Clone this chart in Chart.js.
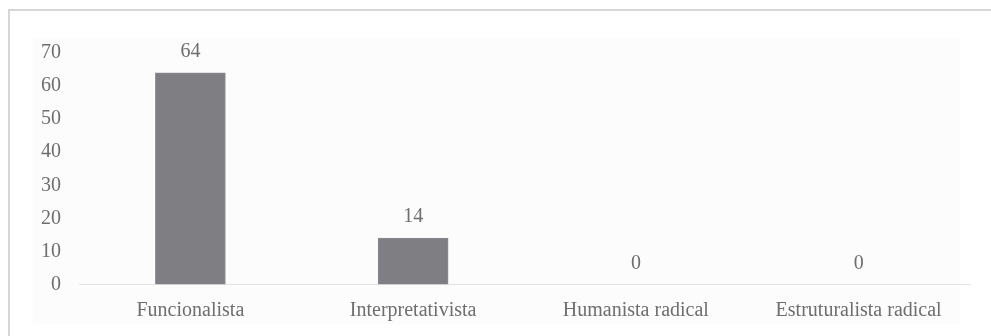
<!DOCTYPE html>
<html>
<head>
<meta charset="utf-8">
<script src="https://cdn.jsdelivr.net/npm/chart.js@4.4.1/dist/chart.umd.min.js"></script>
<style>
    html, body { margin: 0; padding: 0; background: #ffffff; overflow: hidden; }
    body { width: 991px; height: 336px; position: relative; }
    .frame {
        position: absolute; left: 8px; top: 9px; width: 1000px; height: 400px;
        border-left: 2px solid #d6d6d6; border-top: 2px solid #d6d6d6;
    }
    .plotBg {
        position: absolute; left: 33px; top: 38px; width: 927px; height: 286px;
        background: #fcfcfc;
    }
    .chartBox { position: absolute; left: 0; top: 0; width: 991px; height: 336px; }
</style>
</head>
<body>
<div class="frame"></div>
<div class="plotBg"></div>
<div class="chartBox"><canvas id="paradigmChart"></canvas></div>

<script>
// Chart data
const categories = ['Funcionalista', 'Interpretativista', 'Humanista radical', 'Estruturalista radical'];
const counts = [64, 14, 0, 0];
const yTicks = [0, 10, 20, 30, 40, 50, 60, 70];

const labelFont = { family: "'Liberation Serif', 'Times New Roman', serif", size: 20 };
const textColor = '#6e6e6e';

// Draw value labels above each bar
const valueLabels = {
    id: 'valueLabels',
    afterDatasetsDraw(chart) {
        const ctx = chart.ctx;
        const meta = chart.getDatasetMeta(0);
        ctx.save();
        ctx.font = labelFont.size + 'px ' + labelFont.family;
        ctx.fillStyle = textColor;
        ctx.textAlign = 'center';
        ctx.textBaseline = 'middle';
        meta.data.forEach(function(bar, i) {
            ctx.fillText(String(counts[i]), bar.x, bar.y - 21);
        });
        ctx.restore();
    }
};

document.addEventListener('DOMContentLoaded', function() {
    const ctx = document.getElementById('paradigmChart');
    new Chart(ctx, {
        type: 'bar',
        data: {
            labels: categories,
            datasets: [{
                data: counts,
                backgroundColor: '#7f7f83',
                borderColor: '#8c8c90',
                borderWidth: 1,
                barThickness: 70
            }]
        },
        options: {
            responsive: true,
            maintainAspectRatio: false,
            animation: false,
            layout: { padding: { top: 53, right: 21, left: 0, bottom: 0 } },
            plugins: {
                legend: { display: false },
                tooltip: { enabled: false }
            },
            scales: {
                x: {
                    grid: { display: false, drawTicks: false },
                    border: { display: true, color: '#e2e2e2', width: 1 },
                    ticks: { color: textColor, font: labelFont, padding: 14, maxRotation: 0 },
                    afterFit: function(scale) { scale.height = 51.5; }
                },
                y: {
                    min: 0,
                    max: 70,
                    afterBuildTicks: function(scale) {
                        scale.ticks = yTicks.map(function(v) { return { value: v }; });
                    },
                    grid: { display: false, drawTicks: false },
                    border: { display: false },
                    ticks: { color: textColor, font: labelFont, padding: 18 },
                    afterFit: function(scale) { scale.width = 79; }
                }
            }
        },
        plugins: [valueLabels]
    });
});
</script>
</body>
</html>
